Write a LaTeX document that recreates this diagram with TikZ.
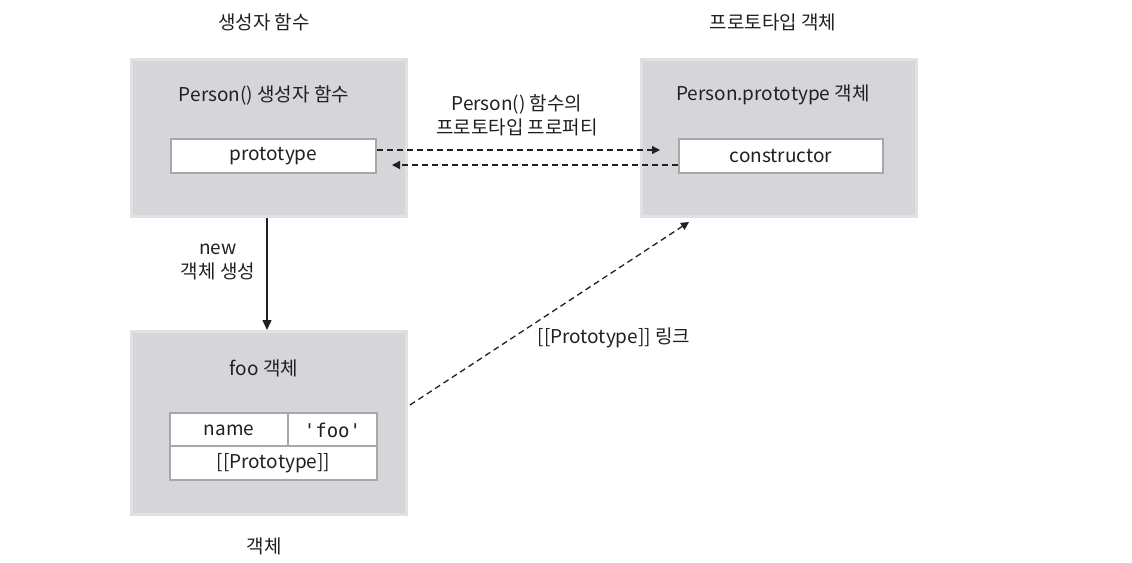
\documentclass[tikz,border=0pt]{standalone}
\usepackage{fontspec}
\setmainfont{Noto Sans CJK KR}
\newfontfamily\monofont{DejaVu Sans Mono}
\usetikzlibrary{arrows.meta, positioning}
\definecolor{boxgray}{HTML}{D6D5D9}
\definecolor{boxedge}{HTML}{E1E0E2}
\definecolor{slotedge}{HTML}{A7A9A9}
\definecolor{ink}{HTML}{231F20}

\begin{document}
\begin{tikzpicture}[x=1pt, y=-1pt, font=\fontsize{19}{24}\selectfont, text=ink,
	objbox/.style={fill=boxgray, draw=boxedge, line width=3pt, minimum width=275pt},
	slotbox/.style={fill=white, draw=slotedge, line width=2pt, minimum height=34pt, inner sep=0pt},
	link/.style={draw=ink, line width=1.3pt, dash pattern=on 6pt off 4pt, -{Triangle[width=8pt,length=8pt]}},
	newlink/.style={draw=ink, line width=1.4pt, -{Triangle[width=9pt,length=10pt]}}]
	\useasboundingbox (0,0) rectangle (1132,562);
	\node[objbox, minimum height=157pt] at(269,138) (ctor) {};
	\node[objbox, minimum height=157pt] at(779,138) (protoobj) {};
	\node[objbox, minimum height=183pt] at(269,423) (foo) {};
	
	\node[slotbox, minimum width=205pt] at(273.5,156) (protoslot) {prototype};
	\node[slotbox, minimum width=204pt] at(781,156) (consslot) {constructor};
	\node[slotbox, minimum width=118pt] at(229,430) (namecell) {name};
	\node[slotbox, minimum width=89pt] at(332.5,430) (valcell) {\monofont 'foo'};
	\node[slotbox, minimum width=207pt] at(273.5,463) (protorow) {[[Prototype]]};
	
	\node at(264,22) (ctortitle) {생성자 함수};
	\node at(773,22) (prototitle) {프로토타입 객체};
	\node at(264,95) (ctorname) {Person() 생성자 함수};
	\node at(773,95) (protoname) {Person.prototype 객체};
	\node at(264,368) (fooname) {foo 객체};
	\node at(264,546) (footitle) {객체};
	
	\draw[link] ([yshift=6pt]protoslot.east) -- ([xshift=-18pt,yshift=6pt]consslot.west);
	\draw[link] ([yshift=-9pt]consslot.west) -- ([xshift=15pt,yshift=-9pt]protoslot.east);
	\node[align=center] at(517,115) (protolabel) {Person() 함수의\\프로토타입 프로퍼티};
	
	\draw[newlink] ([xshift=-2pt]ctor.south) -- ([xshift=-2pt]foo.north);
	\node[align=center] at(218,262) (newlabel) {new\\객체 생성};
	
	\coordinate (linkend) at(689,222);
	\draw[link] ([xshift=2pt,yshift=18pt]foo.east) -- (linkend);
	\node at(614,338) (linklabel) {[[Prototype]] 링크};
\end{tikzpicture}
\end{document}
